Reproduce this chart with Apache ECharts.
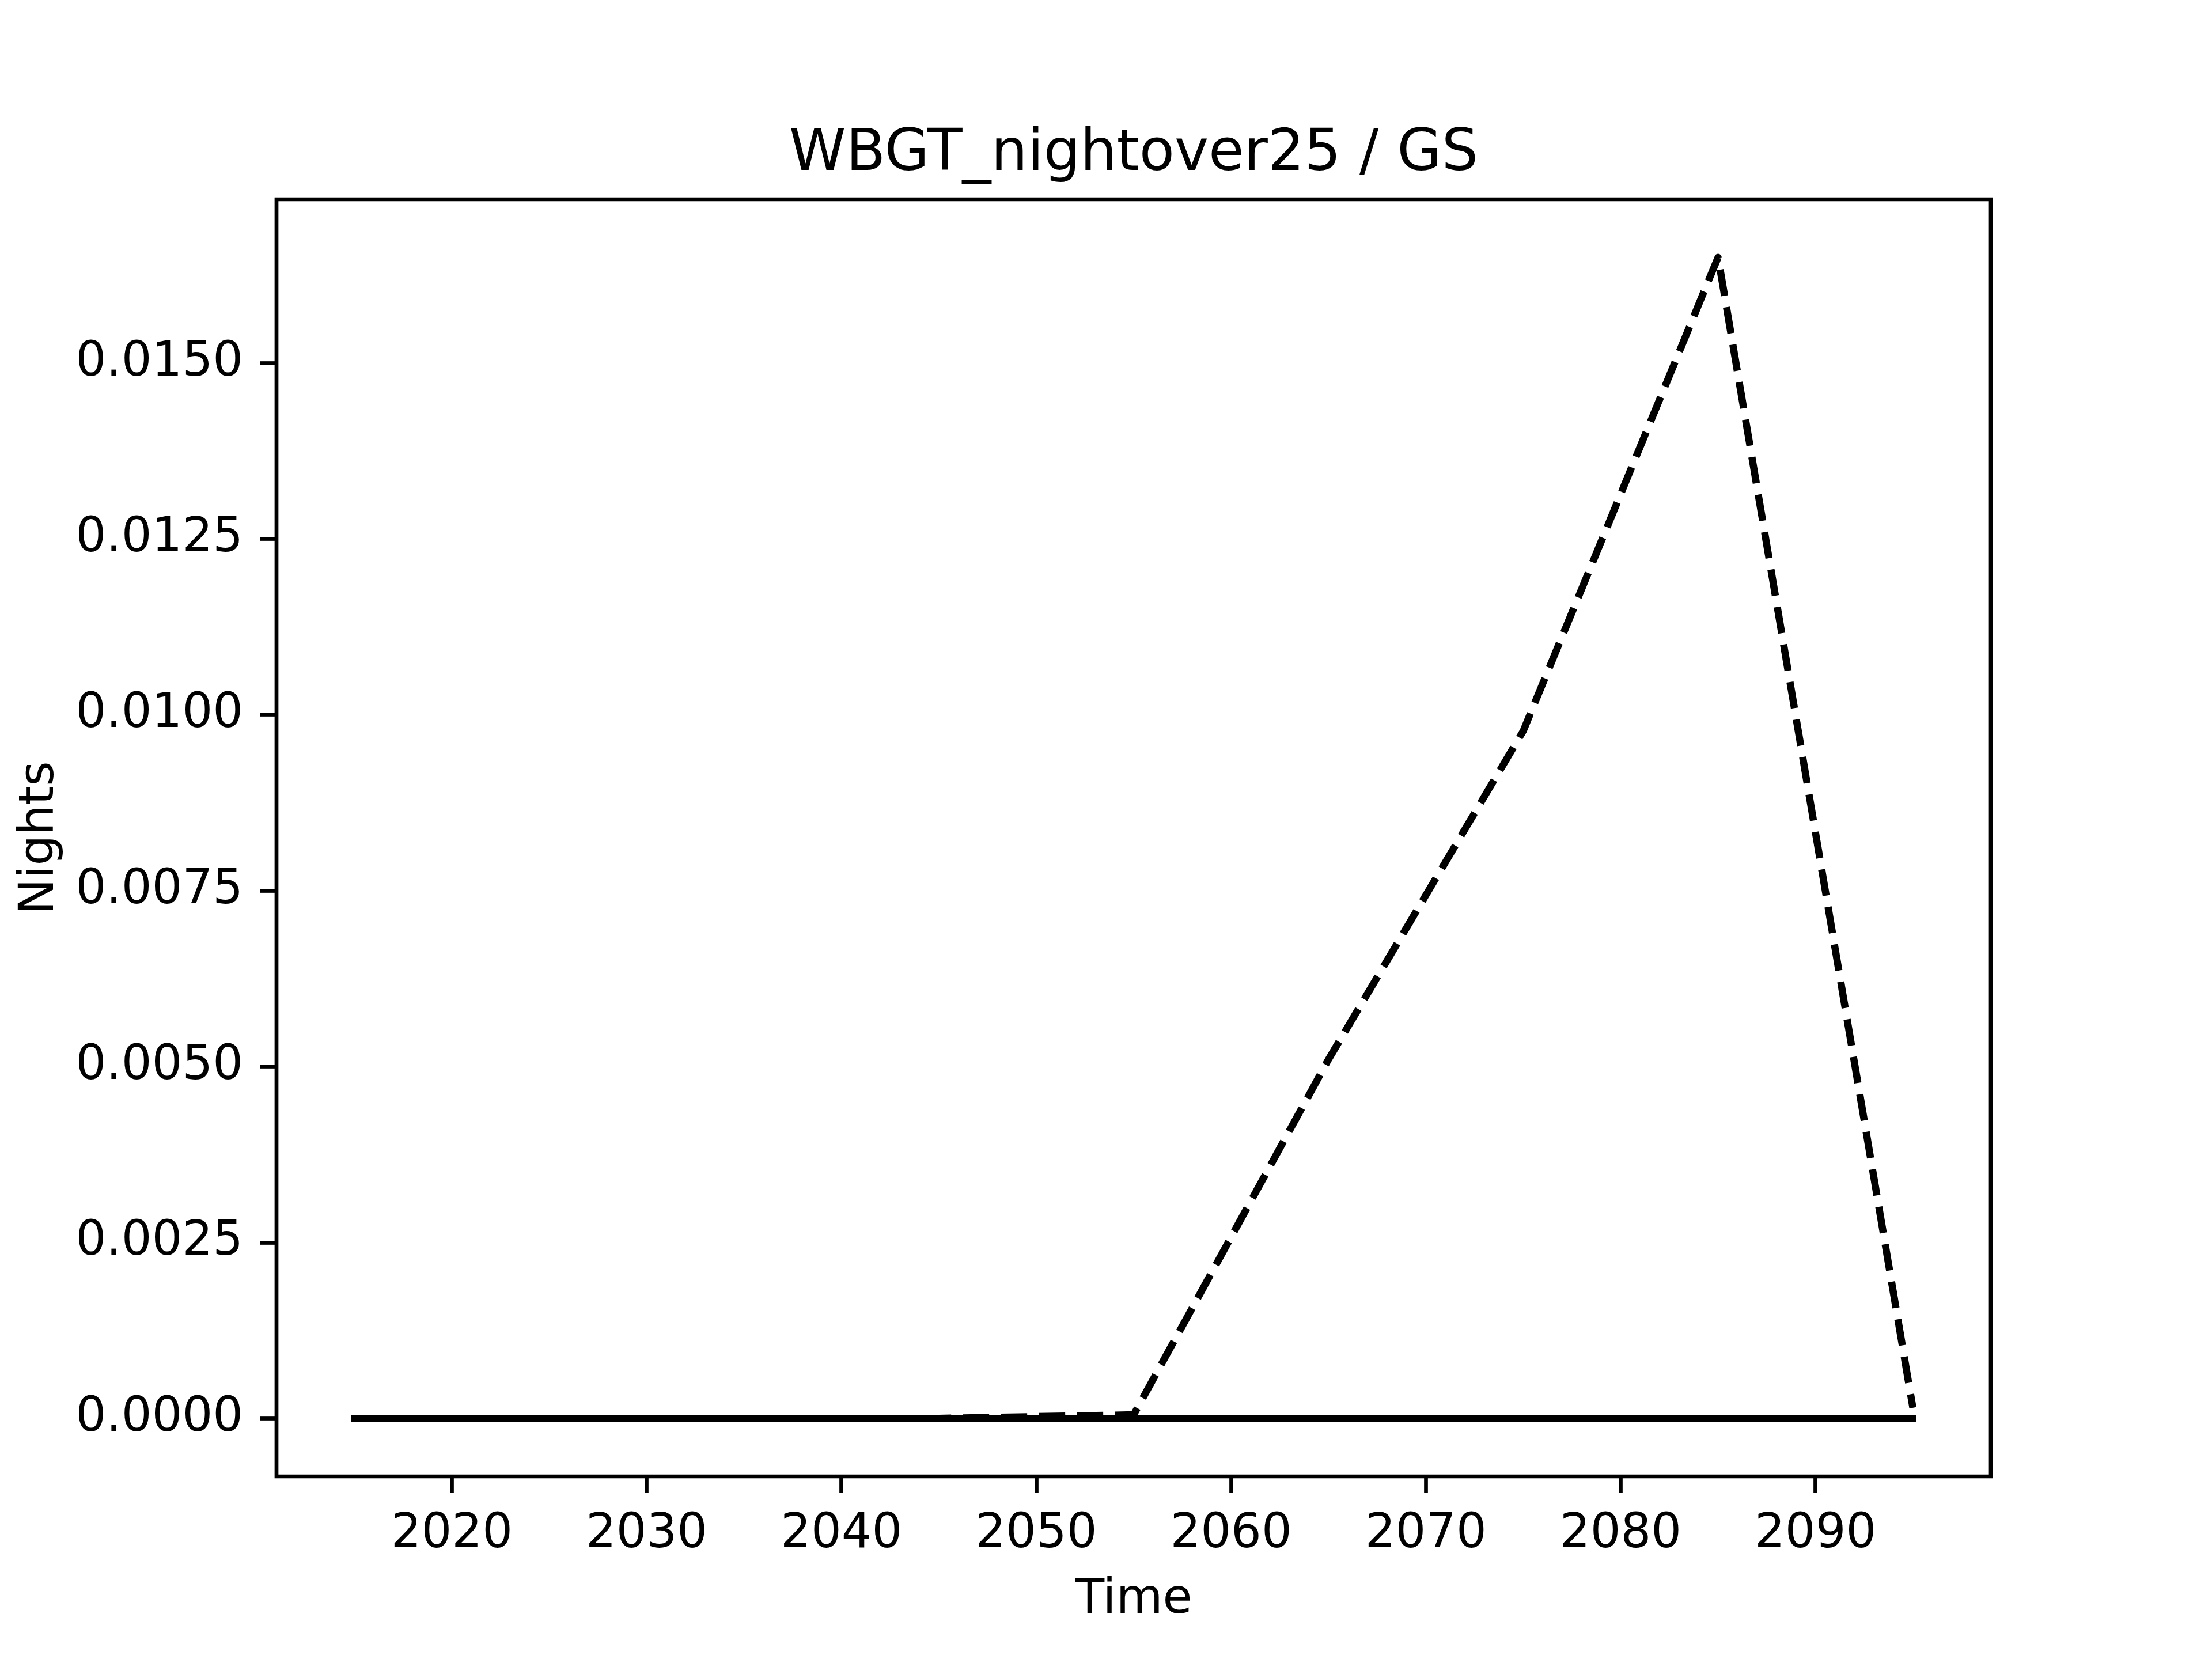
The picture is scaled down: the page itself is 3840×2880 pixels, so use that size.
<!DOCTYPE html>
<html>
<head>
<meta charset="utf-8">
<script src="https://cdn.jsdelivr.net/npm/echarts@6/dist/echarts.min.js"></script>
<style>
html,body{margin:0;padding:0;background:#ffffff;}
#chart{width:3840px;height:2880px;}
</style>
</head>
<body>
<div id="chart"></div>
<script>
// ---- data ----
const years = [2015, 2025, 2035, 2045, 2055, 2065, 2075, 2085, 2095];
const dashedValues = [0, 0, 0, 0, 0.00005, 0.0051, 0.00977, 0.0165, 0.00015];
const solidValues = [0, 0, 0, 0, 0, 0, 0, 0, 0];
const xTickValues = [2020, 2030, 2040, 2050, 2060, 2070, 2080, 2090];
const yTickValues = [0, 0.0025, 0.005, 0.0075, 0.01, 0.0125, 0.015];
const titleText = 'WBGT_nightover25 / GS';
const xAxisName = 'Time';
const yAxisName = 'Nights';

const FONT = 'DejaVu Sans';
const chart = echarts.init(document.getElementById('chart'), null, {renderer: 'canvas'});

const toPairs = (xs, ys) => xs.map((x, i) => [x, ys[i]]);

chart.setOption({
  animation: false,
  backgroundColor: '#ffffff',
  title: {
    text: titleText,
    left: 1968,
    top: 219,
    textAlign: 'center',
    padding: 0,
    textStyle: {fontFamily: FONT, fontSize: 100, fontWeight: 'normal', color: '#000'}
  },
  grid: {
    left: 480, top: 346, width: 2976, height: 2217,
    show: true, borderColor: '#000', borderWidth: 6.7, backgroundColor: 'transparent',
    containLabel: false
  },
  xAxis: {
    type: 'value',
    min: 2011, max: 2099,
    name: xAxisName,
    nameLocation: 'middle',
    nameGap: 174,
    nameTextStyle: {fontFamily: FONT, fontSize: 83, color: '#000'},
    axisLine: {show: false, onZero: false},
    splitLine: {show: false},
    axisTick: {show: true, inside: false, length: 29, lineStyle: {color: '#000', width: 6.7}, customValues: xTickValues},
    axisLabel: {show: true, margin: 60, fontFamily: FONT, fontSize: 83, color: '#000', customValues: xTickValues,
      formatter: v => String(v)}
  },
  yAxis: {
    type: 'value',
    min: -0.000825, max: 0.017325,
    name: yAxisName,
    nameLocation: 'middle',
    nameGap: 368,
    nameRotate: 90,
    nameTextStyle: {fontFamily: FONT, fontSize: 83, color: '#000'},
    axisLine: {show: false, onZero: false},
    splitLine: {show: false},
    axisTick: {show: true, inside: false, length: 29, lineStyle: {color: '#000', width: 6.7}, customValues: yTickValues},
    axisLabel: {show: true, margin: 58, fontFamily: FONT, fontSize: 83, color: '#000', customValues: yTickValues,
      padding: [10, 0, 0, 0],
      formatter: v => Number(v).toFixed(4)}
  },
  series: [
    {
      type: 'line',
      name: 'dashed',
      data: toPairs(years, dashedValues),
      showSymbol: false,
      symbol: 'none',
      clip: true,
      lineStyle: {color: '#000', width: 12.5, type: [46, 20], cap: 'butt', join: 'round'}
    },
    {
      type: 'line',
      name: 'solid',
      data: toPairs(years, solidValues),
      showSymbol: false,
      symbol: 'none',
      clip: true,
      lineStyle: {color: '#000', width: 12.5, type: 'solid', cap: 'square', join: 'round'}
    }
  ]
});
</script>
</body>
</html>
